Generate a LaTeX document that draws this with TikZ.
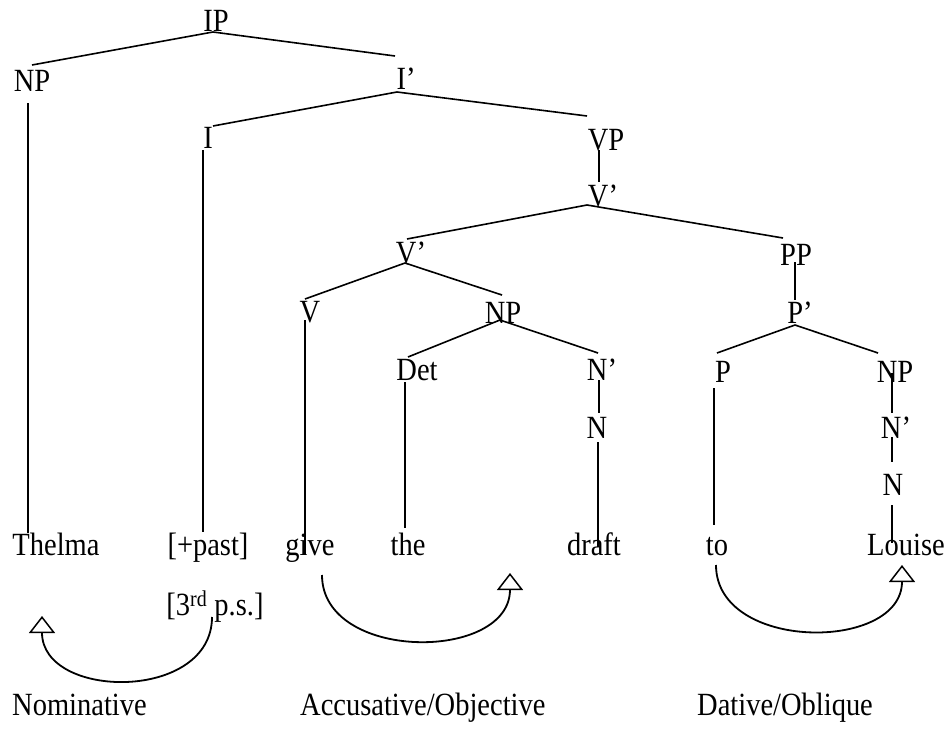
\documentclass[tikz,border=0pt]{standalone}
\usepackage{fontspec}
\setmainfont{Liberation Serif}[FakeStretch=0.88]
\usetikzlibrary{calc,arrows.meta}
\begin{document}
\begin{tikzpicture}[x=1bp,y=-1bp,
  lbl/.style={inner sep=0pt, anchor=base, font=\fontsize{32.5}{38}\selectfont},
  branch/.style={line width=1.6bp},
  caselink/.style={line width=1.8bp,
    -{Triangle[open,length=17bp,width=26bp,line width=1.5bp]}}]
\useasboundingbox (0,0) rectangle (948,738);

% category labels
\node[lbl] (IP)    at (216,32)  {IP};
\node[lbl] (NPs)   at (32,92)   {NP};
\node[lbl] (Ibar)  at (406,90)  {I’};
\node[lbl] (I)     at (208,148) {I};
\node[lbl] (VP)    at (606,150) {VP};
\node[lbl] (Vbar)  at (603,206) {V’};
\node[lbl] (Vbarb) at (411,263) {V’};
\node[lbl] (PP)    at (796,265) {PP};
\node[lbl] (V)     at (310,322) {V};
\node[lbl] (NPo)   at (503,323) {NP};
\node[lbl] (Pbar)  at (800,323) {P’};
\node[lbl] (Det)   at (417,380) {Det};
\node[lbl] (Nbaro) at (602,380) {N’};
\node[lbl] (P)     at (723,382) {P};
\node[lbl] (NPd)   at (895,382) {NP};
\node[lbl] (No)    at (597,438) {N};
\node[lbl] (Nbard) at (896,438) {N’};
\node[lbl] (Nd)    at (893,495) {N};

% terminal words
\node[lbl] (thelma) at (56,555)  {Thelma};
\node[lbl] (past)   at (208,555) {[+past]};
\node[lbl] (give)   at (310,555) {give};
\node[lbl] (the)    at (408,555) {the};
\node[lbl] (draft)  at (594,555) {draft};
\node[lbl] (to)     at (717,555) {to};
\node[lbl] (louise) at (906,555) {Louise};
\node[lbl] (third)  at (215,615) {[3\textsuperscript{rd} p.s.]};

% case names
\node[lbl, anchor=base west] (nom) at (12,715)  {Nominative};
\node[lbl, anchor=base west] (acc) at (300,715) {Accusative/Objective};
\node[lbl, anchor=base west] (dat) at (697,715) {Dative/Oblique};

% branches
\draw[branch] ($(IP.base)+(-3,0)$)    -- ($(NPs.base)+(0,-27)$);
\draw[branch] ($(IP.base)+(-3,0)$)    -- ($(Ibar.base)+(-11,-34)$);
\draw[branch] ($(Ibar.base)+(-9,2)$)  -- ($(I.base)+(5,-22)$);
\draw[branch] ($(Ibar.base)+(-9,2)$)  -- ($(VP.base)+(-19,-34)$);
\draw[branch] ($(VP.base)+(-7,0)$)    -- ($(Vbar.base)+(-4,-24)$);
\draw[branch] ($(Vbar.base)+(-16,-1)$) -- ($(Vbarb.base)+(-4,-24)$);
\draw[branch] ($(Vbar.base)+(-16,-1)$) -- ($(PP.base)+(-13,-27)$);
\draw[branch] ($(PP.base)+(-1,-3)$)   -- ($(Pbar.base)+(-5,-23)$);
\draw[branch] ($(Pbar.base)+(-5,2)$)  -- ($(P.base)+(-6,-29)$);
\draw[branch] ($(Pbar.base)+(-5,2)$)  -- ($(NPd.base)+(-17,-29)$);
\draw[branch] ($(P.base)+(-9,6)$)     -- ($(to.base)+(-3,-30)$);
\draw[branch] ($(NPd.base)+(-3,-9)$)  -- ($(Nbard.base)+(-4,-25)$);
\draw[branch] ($(Nbard.base)+(-4,-1)$) -- ($(Nd.base)+(-1,-33)$);
\draw[branch] ($(Nd.base)+(-1,10)$)   -- ($(louise.base)+(-14,-12)$);
\draw[branch] ($(Vbarb.base)+(-6,0)$) -- ($(V.base)+(-5,-23)$);
\draw[branch] ($(Vbarb.base)+(-6,0)$) -- ($(NPo.base)+(-1,-28)$);
\draw[branch] ($(V.base)+(-5,-2)$)    -- ($(give.base)+(-5,0)$);
\draw[branch] ($(NPo.base)+(-3,-3)$)  -- ($(Det.base)+(-9,-23)$);
\draw[branch] ($(NPo.base)+(-3,-3)$)  -- ($(Nbaro.base)+(-4,-27)$);
\draw[branch] ($(Nbaro.base)+(-3,0)$) -- ($(No.base)+(2,-25)$);
\draw[branch] ($(No.base)+(1,4)$)     -- ($(draft.base)+(4,-8)$);
\draw[branch] ($(Det.base)+(-12,2)$)  -- ($(the.base)+(-3,-27)$);
\draw[branch] ($(NPs.base)+(-4,11)$)  -- ($(thelma.base)+(-28,-22)$);
\draw[branch] ($(I.base)+(-5,2)$)     -- ($(past.base)+(-5,-23)$);

% case assignment arcs
\coordinate (nomTip) at (42,616);
\coordinate (accTip) at (510,573);
\draw[caselink] ($(third.base)+(-3,2)$) .. controls +(0,85) and +(0,84) .. (nomTip);
\draw[caselink] ($(give.base)+(12,20)$) .. controls +(0,87) and +(0,89) .. (accTip);
\draw[caselink] ($(to.base)+(-1,10)$) .. controls +(0,87) and +(0,87) .. ($(louise.base)+(-4,10)$);
\end{tikzpicture}
\end{document}
